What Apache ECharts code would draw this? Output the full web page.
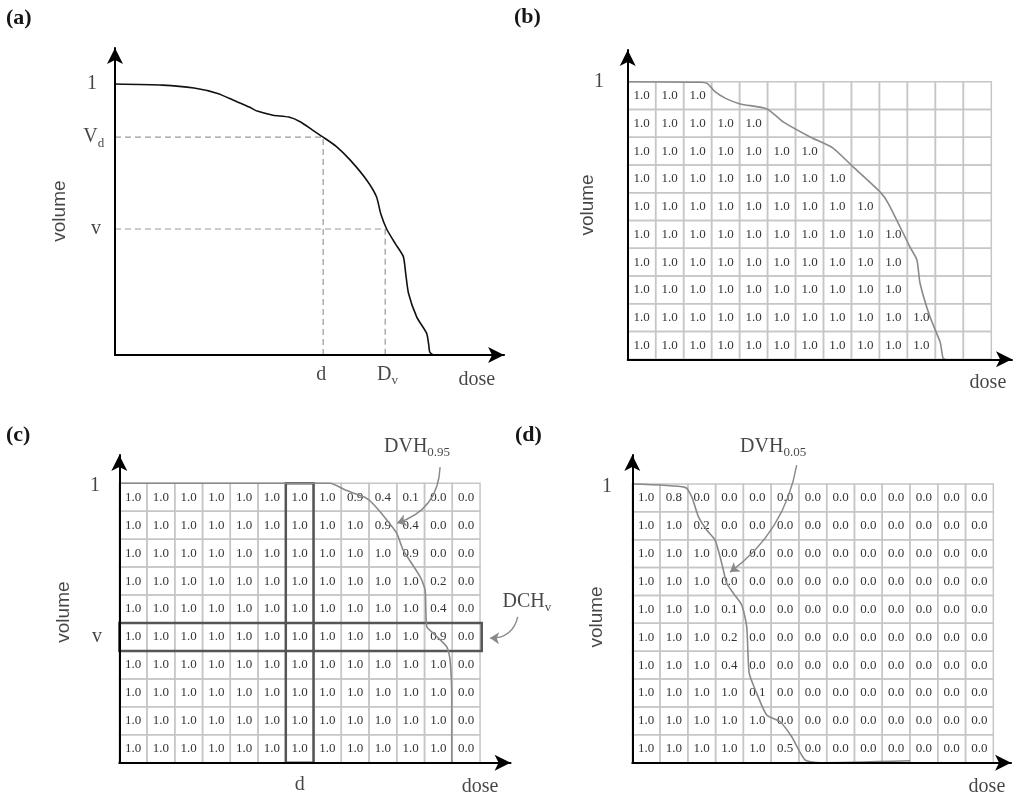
<!DOCTYPE html>
<html>
<head>
<meta charset="utf-8">
<title>DVH / DCH</title>
<script src="https://cdn.jsdelivr.net/npm/echarts@6/dist/echarts.min.js"></script>
<style>
    html, body { margin: 0; padding: 0; background: #fff; }
    #chart { width: 1019px; height: 796px; }
</style>
</head>
<body>
<div id="chart"></div>
<script>
(function () {
    let chart = echarts.init(document.getElementById('chart'));

    const NCOLS = 13, NROWS = 10;

    // (a) cumulative DVH: [dose, volume fraction]
    const aCurve = [[0, 1.0], [12, 0.996], [20, 0.985], [26, 0.965], [30, 0.94], [34, 0.915], [36, 0.90],
        [40, 0.885], [44, 0.878], [47, 0.86], [50, 0.83], [52.7, 0.804], [56, 0.77], [59.5, 0.72],
        [63.7, 0.646], [66.2, 0.584], [67.3, 0.52], [68.8, 0.464], [71, 0.41], [73, 0.363], [73.6, 0.30],
        [74.3, 0.228], [76.4, 0.14], [78.9, 0.08], [79.4, 0.04], [79.7, 0.01], [80.5, 0]];
    const aD = 52.7, aDv = 68.4;       // dose marks d, D_v
    const aVd = 0.804, aV = 0.465;     // volume marks V_d, v

    // (b) how many 1.0 cells each row holds (top row first)
    const bFilled = [3, 5, 7, 8, 9, 10, 10, 10, 11, 11];
    const bCurve = [[0, 10], [2.6, 9.98], [2.85, 9.93], [3.12, 9.64], [3.5, 9.4], [4.02, 9.2], [4.98, 9.02],
        [5.56, 8.55], [6.52, 8.01], [7.34, 7.61], [8.06, 6.93], [9.02, 6.03], [9.31, 5.63], [10.09, 4.05],
        [10.34, 3.58], [10.45, 2.75], [10.81, 1.52], [11.17, 0.62], [11.27, 0.05], [11.35, 0]];

    // (c) DVH values per cell (top row first)
    const cRows = [
        [1, 1, 1, 1, 1, 1, 1, 1, 0.9, 0.4, 0.1, 0, 0],
        [1, 1, 1, 1, 1, 1, 1, 1, 1, 0.9, 0.4, 0, 0],
        [1, 1, 1, 1, 1, 1, 1, 1, 1, 1, 0.9, 0, 0],
        [1, 1, 1, 1, 1, 1, 1, 1, 1, 1, 1, 0.2, 0],
        [1, 1, 1, 1, 1, 1, 1, 1, 1, 1, 1, 0.4, 0],
        [1, 1, 1, 1, 1, 1, 1, 1, 1, 1, 1, 0.9, 0],
        [1, 1, 1, 1, 1, 1, 1, 1, 1, 1, 1, 1, 0],
        [1, 1, 1, 1, 1, 1, 1, 1, 1, 1, 1, 1, 0],
        [1, 1, 1, 1, 1, 1, 1, 1, 1, 1, 1, 1, 0],
        [1, 1, 1, 1, 1, 1, 1, 1, 1, 1, 1, 1, 0]
    ];
    const cCurve = [[0, 10], [7.59, 10], [8.19, 9.74], [8.85, 9.5], [9.15, 9.26], [9.64, 8.69], [10.0, 8.21],
        [10.23, 7.61], [10.84, 6.66], [11.02, 6.18], [11.08, 4.87], [11.32, 4.63], [11.8, 4.15],
        [11.92, 3.68], [11.98, 2.24], [11.98, 0]];
    const cCol = 6;   // highlighted dose column (d)
    const cRow = 4;   // highlighted volume row (v), counted from the bottom

    // (d)
    const dRows = [
        [1, 0.8, 0, 0, 0, 0, 0, 0, 0, 0, 0, 0, 0],
        [1, 1, 0.2, 0, 0, 0, 0, 0, 0, 0, 0, 0, 0],
        [1, 1, 1, 0, 0, 0, 0, 0, 0, 0, 0, 0, 0],
        [1, 1, 1, 0, 0, 0, 0, 0, 0, 0, 0, 0, 0],
        [1, 1, 1, 0.1, 0, 0, 0, 0, 0, 0, 0, 0, 0],
        [1, 1, 1, 0.2, 0, 0, 0, 0, 0, 0, 0, 0, 0],
        [1, 1, 1, 0.4, 0, 0, 0, 0, 0, 0, 0, 0, 0],
        [1, 1, 1, 1, 0.1, 0, 0, 0, 0, 0, 0, 0, 0],
        [1, 1, 1, 1, 1, 0, 0, 0, 0, 0, 0, 0, 0],
        [1, 1, 1, 1, 1, 0.5, 0, 0, 0, 0, 0, 0, 0]
    ];
    const dCurve = [[0, 10], [1.9, 9.88], [2.14, 9.54], [2.38, 8.83], [2.68, 8.35], [2.98, 7.99], [3.16, 7.39],
        [3.28, 6.91], [3.4, 6.44], [3.64, 6.08], [3.94, 5.66], [4.12, 4.88], [4.21, 3.21], [4.48, 2.49],
        [4.84, 1.71], [5.32, 1.47], [5.74, 0.93], [6.22, 0.1], [6.76, 0], [10.0, 0.07]];

    // panel placement: left / bottom pixel, pixels per unit, axis extents
    const panels = [
        {left: 115, bottom: 355, ux: 3.95, uy: 271, xMax: 98.5, yMax: 1.133},
        {left: 627.7, bottom: 359.3, ux: 27.97, uy: 27.76, xMax: 13.74, yMax: 11.14},
        {left: 119.3, bottom: 762.7, ux: 27.75, uy: 27.94, xMax: 14.1, yMax: 11.01},
        {left: 632.3, bottom: 762.7, ux: 27.77, uy: 27.87, xMax: 13.64, yMax: 11.04}
    ];

    const SERIF = '"Liberation Serif", "DejaVu Serif", serif';
    const SANS = '"Liberation Sans", Arial, sans-serif';
    const INK = '#161616';

    const axisLine = {
        show: true,
        onZero: false,
        symbol: ['none', 'arrow'],
        symbolSize: [12, 16],
        lineStyle: {color: '#000', width: 2}
    };

    function axis(max, i) {
        return {
            gridIndex: i, type: 'value', min: 0, max: max, z: 5,
            axisLine: axisLine,
            axisTick: {show: false},
            axisLabel: {show: false},
            splitLine: {show: false}
        };
    }

    function cellSeries(gi, rowsArr) {
        let data = [], texts = [];
        rowsArr.forEach(function (row, r) {
            row.forEach(function (v, c) {
                data.push([c, NROWS - 1 - r]);
                texts.push(v == null ? '' : v.toFixed(1));
            });
        });
        return {
            type: 'custom', xAxisIndex: gi, yAxisIndex: gi, silent: true, z: 2,
            data: data,
            renderItem: function (params, api) {
                let c = api.value(0), r = api.value(1);
                let p0 = api.coord([c, r + 1]), p1 = api.coord([c + 1, r]);
                return {
                    type: 'group',
                    children: [{
                        type: 'rect',
                        shape: {x: p0[0], y: p0[1], width: p1[0] - p0[0], height: p1[1] - p0[1]},
                        style: {fill: 'none', stroke: '#c6c6c6', lineWidth: 1.5}
                    }, {
                        type: 'text',
                        x: (p0[0] + p1[0]) / 2,
                        y: (p0[1] + p1[1]) / 2,
                        style: {
                            text: texts[params.dataIndex],
                            align: 'center', verticalAlign: 'middle',
                            fill: '#333', font: '13px ' + SERIF
                        }
                    }]
                };
            }
        };
    }

    function curve(gi, data, color) {
        return {
            type: 'line', xAxisIndex: gi, yAxisIndex: gi, data: data, z: 4,
            showSymbol: false, silent: true, smooth: 0.2,
            lineStyle: {color: color, width: 1.6}
        };
    }

    function dashed(gi, data) {
        return {
            type: 'line', xAxisIndex: gi, yAxisIndex: gi, data: data, z: 3,
            showSymbol: false, silent: true,
            lineStyle: {color: '#999', width: 1.2, type: [6, 4]}
        };
    }

    function arrow(gi, from, to, curveness) {
        return {
            type: 'lines', coordinateSystem: 'cartesian2d', xAxisIndex: gi, yAxisIndex: gi,
            silent: true, clip: false, z: 6,
            symbol: ['none', 'arrow'], symbolSize: 9,
            lineStyle: {color: '#888', width: 1.4, curveness: curveness, opacity: 1},
            data: [{coords: [from, to]}]
        };
    }

    const rich = {
        m: {fontFamily: SERIF, fontSize: 20, color: INK, lineHeight: 25},
        s: {fontFamily: SERIF, fontSize: 13, color: INK, verticalAlign: 'bottom'}
    };

    // items: [x, y, text, rotate, sans]
    function texts(gi, items) {
        return {
            type: 'scatter', xAxisIndex: gi, yAxisIndex: gi, silent: true, clip: false, z: 10,
            symbolSize: 1, itemStyle: {color: 'rgba(0,0,0,0)'},
            data: items.map(function (t) {
                return {
                    value: [t[0], t[1]],
                    label: {
                        show: true, position: 'inside', formatter: t[2], rotate: t[3] || 0,
                        fontFamily: t[4] ? SANS : SERIF, fontSize: t[4] ? 19 : 20, color: INK, rich: rich
                    }
                };
            })
        };
    }

    let bRows = bFilled.map(function (n) {
        let row = [];
        for (let i = 0; i < NCOLS; i++) row.push(i < n ? 1.0 : null);
        return row;
    });

    option = {
        backgroundColor: '#fff',
        animation: false,
        title: [
            {text: '(a)', left: 6, top: 7},
            {text: '(b)', left: 514, top: 6},
            {text: '(c)', left: 6, top: 424},
            {text: '(d)', left: 515, top: 424}
        ].map(function (t) {
            t.padding = 0;
            t.textStyle = {fontFamily: SERIF, fontWeight: 'bold', fontSize: 22, color: INK};
            return t;
        }),
        grid: panels.map(function (p) {
            return {
                left: p.left, top: p.bottom - p.yMax * p.uy,
                width: p.xMax * p.ux, height: p.yMax * p.uy,
                containLabel: false, outerBoundsMode: 'none'
            };
        }),
        xAxis: panels.map(function (p, i) { return axis(p.xMax, i); }),
        yAxis: panels.map(function (p, i) { return axis(p.yMax, i); }),
        series: [
            // (a)
            curve(0, aCurve, '#111'),
            dashed(0, [[0, aVd], [aD, aVd], [aD, 0]]),
            dashed(0, [[0, aV], [aDv, aV], [aDv, 0]]),
            texts(0, [
                [-5.8, 1.0, '1'],
                [-5.4, aVd, '{m|V}{s|d}'],
                [-4.8, aV, 'v'],
                [aD - 0.5, -0.074, 'd'],
                [aDv + 0.6, -0.074, '{m|D}{s|v}'],
                [91.6, -0.092, 'dose'],
                [-13.9, 0.531, 'volume', 90, true]
            ]),
            // (b)
            cellSeries(1, bRows),
            curve(1, bCurve, '#8a8a8a'),
            texts(1, [
                [-1.03, 10, '1'],
                [12.88, -0.85, 'dose'],
                [-1.42, 5.56, 'volume', 90, true]
            ]),
            // (c)
            cellSeries(2, cRows),
            {
                type: 'custom', xAxisIndex: 2, yAxisIndex: 2, silent: true, z: 3,
                data: [[cCol, 0, cCol + 1, NROWS], [0, cRow, NCOLS + 0.06, cRow + 1]],
                renderItem: function (params, api) {
                    let p0 = api.coord([api.value(0), api.value(3)]);
                    let p1 = api.coord([api.value(2), api.value(1)]);
                    return {
                        type: 'rect',
                        shape: {x: p0[0], y: p0[1], width: p1[0] - p0[0], height: p1[1] - p0[1]},
                        style: {fill: 'none', stroke: '#555', lineWidth: 2.5}
                    };
                }
            },
            curve(2, cCurve, '#8a8a8a'),
            arrow(2, [11.56, 10.58], [10.01, 8.58], 0.35),
            arrow(2, [14.36, 5.22], [13.36, 4.46], 0.4),
            texts(2, [
                [-0.88, 9.9, '1'],
                [-0.8, cRow + 0.5, 'v'],
                [cCol + 0.5, -0.8, 'd'],
                [13.0, -0.87, 'dose'],
                [-1.99, 5.39, 'volume', 90, true],
                [10.73, 11.3, '{m|DVH}{s|0.95}'],
                [14.69, 5.75, '{m|DCH}{s|v}']
            ]),
            // (d)
            cellSeries(3, dRows),
            curve(3, dCurve, '#8a8a8a'),
            arrow(3, [5.92, 10.68], [3.52, 6.84], 0.2),
            texts(3, [
                [-0.91, 9.9, '1'],
                [12.77, -0.87, 'dose'],
                [-1.27, 5.23, 'volume', 90, true],
                [5.07, 11.33, '{m|DVH}{s|0.05}']
            ])
        ]
    };

    chart.setOption(option);
})();
</script>
</body>
</html>
